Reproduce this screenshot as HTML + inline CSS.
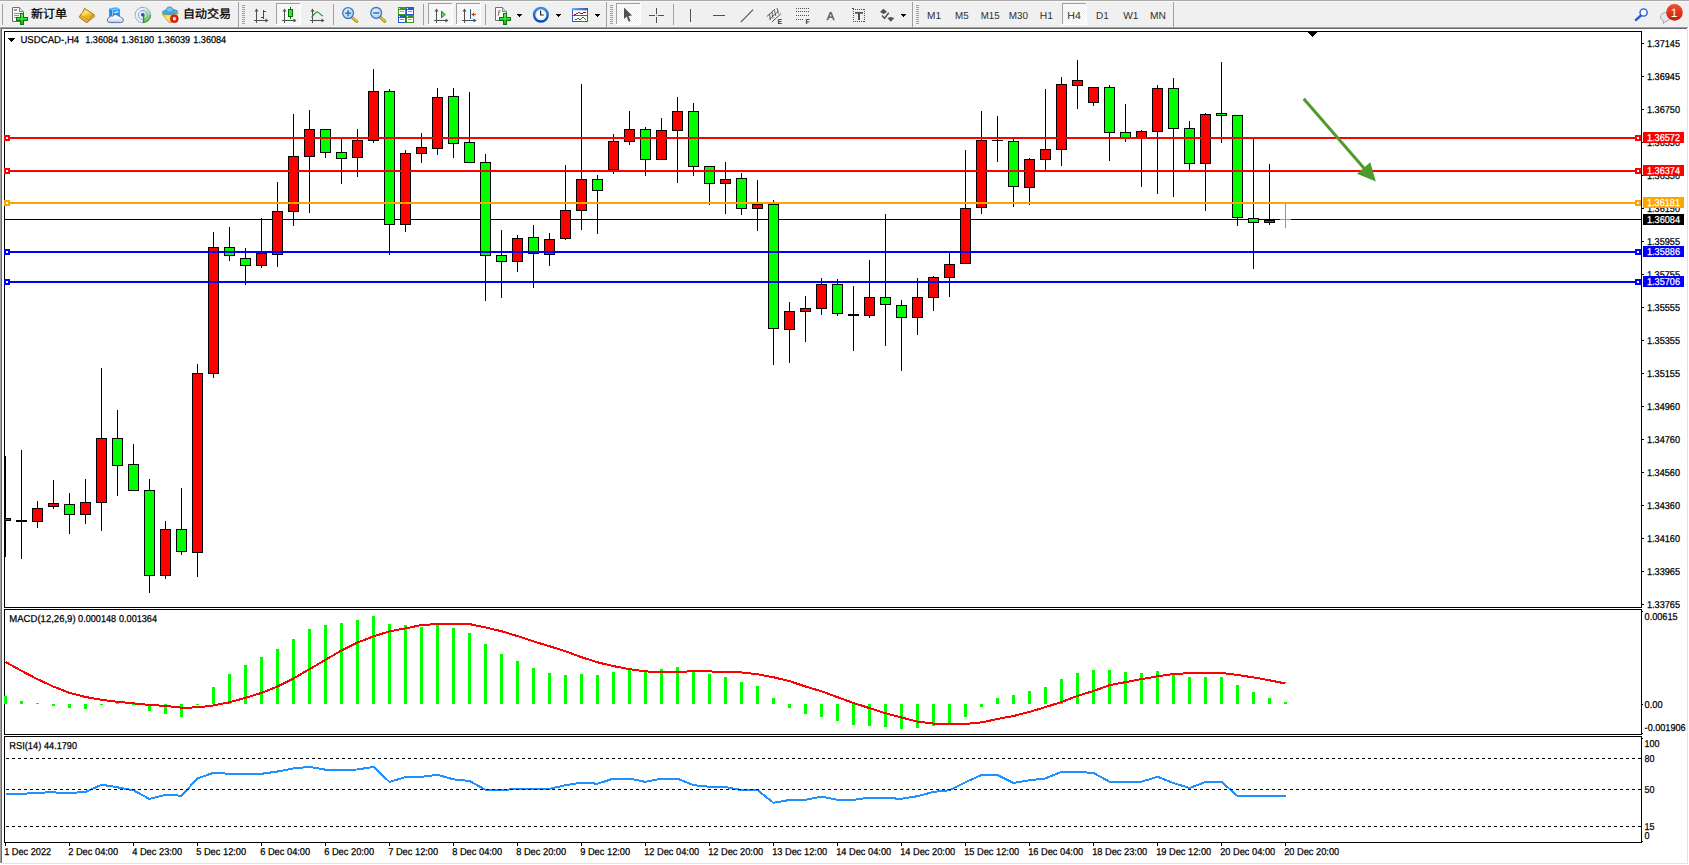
<!DOCTYPE html>
<html><head><meta charset="utf-8"><title>USDCAD-,H4</title>
<style>html,body{margin:0;padding:0;background:#fff;overflow:hidden}svg{display:block}text{text-rendering:geometricPrecision;font-family:"Liberation Sans","Noto Sans CJK SC",sans-serif}</style>
</head><body>
<svg width="1689" height="865" viewBox="0 0 1689 865" font-family="Liberation Sans, sans-serif" shape-rendering="crispEdges">
<rect x="0" y="0" width="1689" height="865" fill="#fff"/>
<rect x="0" y="0" width="1689" height="27" fill="#f0f0f0"/>
<rect x="0" y="0" width="1689" height="1" fill="#a8a8a8"/>
<rect x="0" y="1" width="1689" height="1" fill="#fafafa"/>
<rect x="0" y="27" width="1688" height="1" fill="#a0a0a0"/>
<rect x="0" y="28" width="1687" height="1" fill="#696969"/>
<rect x="0" y="28" width="1" height="835" fill="#a0a0a0"/>
<rect x="1" y="29" width="1" height="834" fill="#696969"/>
<rect x="1687" y="29" width="1" height="835" fill="#e3e3e3"/>
<rect x="2" y="863" width="1686" height="1" fill="#e3e3e3"/>
<defs><pattern id="chk" width="2" height="2" patternUnits="userSpaceOnUse"><rect width="2" height="2" fill="#fff"/><rect width="1" height="1" fill="#f0f0f0"/><rect x="1" y="1" width="1" height="1" fill="#f0f0f0"/></pattern>
<linearGradient id="gp" x1="0" y1="0" x2="0" y2="1"><stop offset="0" stop-color="#58f858"/><stop offset="1" stop-color="#10b010"/></linearGradient>
<linearGradient id="gp2" x1="0" y1="0" x2="0" y2="1"><stop offset="0" stop-color="#40f040"/><stop offset="1" stop-color="#18c018"/></linearGradient>
<linearGradient id="clk" x1="0" y1="0" x2="0" y2="1"><stop offset="0" stop-color="#3c90e8"/><stop offset="1" stop-color="#0c48b0"/></linearGradient>
<linearGradient id="tbar" x1="0" y1="0" x2="1" y2="0"><stop offset="0" stop-color="#78b0f0"/><stop offset="1" stop-color="#2458b8"/></linearGradient>
<linearGradient id="gold" x1="0" y1="0" x2="1" y2="1"><stop offset="0" stop-color="#f8e070"/><stop offset="1" stop-color="#c08010"/></linearGradient>
<linearGradient id="redb" x1="0" y1="0" x2="0" y2="1"><stop offset="0" stop-color="#ec5030"/><stop offset="1" stop-color="#d01c0c"/></linearGradient>
<radialGradient id="lens" cx="0.4" cy="0.35" r="0.7"><stop offset="0" stop-color="#e8f4ff"/><stop offset="1" stop-color="#a8cce8"/></radialGradient>
<linearGradient id="gold2" x1="0.2" y1="0" x2="0.7" y2="1"><stop offset="0" stop-color="#f0c020"/><stop offset="0.35" stop-color="#fbe468"/><stop offset="0.7" stop-color="#e8b010"/><stop offset="1" stop-color="#f4cc38"/></linearGradient>
<linearGradient id="cloud" x1="0" y1="0" x2="0" y2="1"><stop offset="0" stop-color="#ffffff"/><stop offset="0.55" stop-color="#f0f2f8"/><stop offset="1" stop-color="#b8c2d8"/></linearGradient>
<linearGradient id="sig" x1="0.2" y1="0" x2="0.6" y2="1"><stop offset="0" stop-color="#e4f0e4" stop-opacity="0.7"/><stop offset="0.55" stop-color="#b0d8b0" stop-opacity="0.9"/><stop offset="1" stop-color="#38a838"/></linearGradient>
<linearGradient id="face" x1="0" y1="0" x2="0.3" y2="1"><stop offset="0" stop-color="#f4c830"/><stop offset="0.5" stop-color="#fbe870"/><stop offset="1" stop-color="#f8e050"/></linearGradient>
</defs>
<g shape-rendering="geometricPrecision">
</g>
<rect x="2" y="4" width="1" height="21" fill="#a0a0a0"/>
<g shape-rendering="geometricPrecision">
<path d="M12.5,7.5 h7 l4,4 v10 h-11 z" fill="#fcfcfc" stroke="#707070" stroke-width="1" stroke-linejoin="round"/>
<path d="M19.5,7.5 v4 h4" fill="#e0e0e0" stroke="#808080" stroke-width="1"/>
<rect x="14" y="9" width="3" height="2" fill="#989898" shape-rendering="crispEdges"/>
<rect x="14" y="13" width="6" height="1" fill="#909090" shape-rendering="crispEdges"/>
<rect x="14" y="15" width="5" height="1" fill="#909090" shape-rendering="crispEdges"/>
<rect x="14" y="17" width="3" height="1" fill="#909090" shape-rendering="crispEdges"/>
<g shape-rendering="crispEdges">
<rect x="20" y="13" width="4" height="12" fill="#087808"/>
<rect x="16" y="17" width="12" height="4" fill="#087808"/>
<rect x="21" y="14" width="2" height="10" fill="url(#gp)"/>
<rect x="17" y="18" width="10" height="2" fill="url(#gp2)"/>
<rect x="21" y="18" width="2" height="2" fill="#30e030"/>
</g>
<text x="31" y="18.3" font-size="12" fill="#000" stroke="#000" stroke-width="0.3">新订单</text>
<path d="M80.2,15.3 L88.5,20.2 L86.6,22.7 L79.2,17.3 Z" fill="#e0a820" stroke="#a86c10" stroke-width="0.8" stroke-linejoin="round"/>
<path d="M88.5,20.2 L93.8,14.4 L94.8,16.6 L86.6,22.7 Z" fill="#e8dc98" stroke="#a87818" stroke-width="0.8" stroke-linejoin="round"/>
<path d="M87.5,21.6 L94.2,15.6" stroke="#b89838" stroke-width="0.5" fill="none"/>
<path d="M84.6,8.4 L93.8,14.4 L88.5,20.2 L80.2,15.3 Q82.8,12.8 84.6,8.4 Z" fill="url(#gold2)" stroke="#a86c10" stroke-width="0.9" stroke-linejoin="round"/>
<path d="M80.9,16.2 L87.9,20.6" stroke="#fbe888" stroke-width="0.7" fill="none"/>
<path d="M109.2,8.2 L116.5,7.2 L119.9,8.8 L112.4,9.9 Z" fill="#40acff"/>
<path d="M109.2,8.2 L112.4,9.9 L112.4,18 L109.2,18 Z" fill="#0c84ee"/>
<path d="M112.4,9.9 L119.9,8.8 L119.9,18 L112.4,18 Z" fill="#1c98f8"/>
<path d="M109.2,8.2 L112.4,9.9 L119.9,8.8 M112.4,9.9 V16" stroke="#c8e8ff" stroke-width="0.6" fill="none"/>
<path d="M114.2,12.6 L118.4,11.6" stroke="#e8f6ff" stroke-width="1.1" fill="none"/>
<path d="M109.6,22.6 a2.6,2.6 0 0 1 -0.3,-5.1 a2.4,2.4 0 0 1 3.4,-1.2 a3.1,3.1 0 0 1 5.6,-0.2 a2.4,2.4 0 0 1 2.8,1.5 a2.5,2.5 0 0 1 -0.5,5 z" fill="url(#cloud)" stroke="#4868a8" stroke-width="0.9"/>
<path d="M142.9,15.0 L142.9,22.9 A7.9,7.9 0 0 0 150.8,15.0 A7.9,7.9 0 0 0 142.9,7.1 Z" fill="url(#sig)"/>
<path d="M142.9,10.5 a4.5,4.5 0 0 0 0,9.0" fill="none" stroke="#3864d0" stroke-width="1" opacity="0.8" stroke-dasharray="1.6,0.7"/>
<path d="M142.9,10.5 a4.5,4.5 0 0 1 4.5,4.5" fill="none" stroke="#5088b8" stroke-width="1" opacity="0.5599999999999999"/>
<path d="M142.9,7.3 a7.7,7.7 0 0 0 0,15.4" fill="none" stroke="#3864d0" stroke-width="1" opacity="0.75" stroke-dasharray="1.6,0.7"/>
<path d="M142.9,7.3 a7.7,7.7 0 0 1 7.7,7.7" fill="none" stroke="#5088b8" stroke-width="1" opacity="0.5249999999999999"/>
<path d="M150.6,15.0 a7.7,7.7 0 0 1 -7.7,7.7" fill="none" stroke="#30a030" stroke-width="1.1" opacity="0.9"/>
<path d="M147.5,15.0 a4.6,4.6 0 0 1 -4.6,4.6" fill="none" stroke="#60a870" stroke-width="1" opacity="0.6"/>
<rect x="142.9" y="15.0" width="1.4" height="7.8" fill="#18a018"/>
<circle cx="142.70000000000002" cy="14.8" r="1.8" fill="#2452d0"/>
<path d="M162.4,14.3 L178,13.4 L171.2,22.6 L169,22.4 Z" fill="url(#face)" stroke="#c09410" stroke-width="0.8" stroke-linejoin="round"/>
<ellipse cx="170" cy="12" rx="7.7" ry="2.4" fill="#58b0e2" stroke="#2484b4" stroke-width="0.8" transform="rotate(-3 170 12)"/>
<path d="M166,11.6 C166,8.6 167.4,7 169.7,7 C172,7 173.2,8.6 173.3,11.4 C171,12.4 168,12.5 166,11.6 Z" fill="#7cc4ee" stroke="#2484b4" stroke-width="0.8"/>
<circle cx="174.3" cy="18.7" r="3.9" fill="#e82408" stroke="#b01c08" stroke-width="0.8"/>
<rect x="173" y="17.3" width="2.8" height="2.9" fill="#fff"/>
<text x="183" y="18.3" font-size="12" fill="#000" stroke="#000" stroke-width="0.3">自动交易</text>
</g>
<rect x="238" y="2" width="1" height="25" fill="#a0a0a0"/>
<rect x="242" y="5" width="3" height="1" fill="#a0a0a0"/>
<rect x="242" y="7" width="3" height="1" fill="#a0a0a0"/>
<rect x="242" y="9" width="3" height="1" fill="#a0a0a0"/>
<rect x="242" y="11" width="3" height="1" fill="#a0a0a0"/>
<rect x="242" y="13" width="3" height="1" fill="#a0a0a0"/>
<rect x="242" y="15" width="3" height="1" fill="#a0a0a0"/>
<rect x="242" y="17" width="3" height="1" fill="#a0a0a0"/>
<rect x="242" y="19" width="3" height="1" fill="#a0a0a0"/>
<rect x="242" y="21" width="3" height="1" fill="#a0a0a0"/>
<rect x="242" y="23" width="3" height="1" fill="#a0a0a0"/>
<rect x="256" y="10" width="1" height="13" fill="#505050"/>
<rect x="254" y="20" width="13" height="1" fill="#505050"/>
<polygon points="256.5,8.5 254.5,11.5 258.5,11.5" fill="#505050" shape-rendering="geometricPrecision"/>
<polygon points="268.5,20.5 265.5,18.5 265.5,22.5" fill="#505050" shape-rendering="geometricPrecision"/>
<rect x="263" y="10" width="1" height="9" fill="#008000"/>
<rect x="264" y="11" width="2" height="1" fill="#008000"/>
<rect x="261" y="17" width="2" height="1" fill="#008000"/>
<rect x="276" y="3" width="25" height="22" fill="url(#chk)"/>
<rect x="276" y="3" width="25" height="1" fill="#a0a0a0"/>
<rect x="276" y="3" width="1" height="22" fill="#a0a0a0"/>
<rect x="276" y="24" width="25" height="1" fill="#fff"/>
<rect x="300" y="3" width="1" height="22" fill="#fff"/>
<rect x="284" y="10" width="1" height="13" fill="#505050"/>
<rect x="282" y="20" width="13" height="1" fill="#505050"/>
<polygon points="284.5,8.5 282.5,11.5 286.5,11.5" fill="#505050" shape-rendering="geometricPrecision"/>
<polygon points="296.5,20.5 293.5,18.5 293.5,22.5" fill="#505050" shape-rendering="geometricPrecision"/>
<rect x="290" y="7" width="1" height="12" fill="#007000"/>
<rect x="288" y="9" width="5" height="8" fill="#007000"/>
<rect x="289" y="10" width="3" height="6" fill="#40e040"/>
<rect x="312" y="10" width="1" height="13" fill="#505050"/>
<rect x="310" y="20" width="13" height="1" fill="#505050"/>
<polygon points="312.5,8.5 310.5,11.5 314.5,11.5" fill="#505050" shape-rendering="geometricPrecision"/>
<polygon points="324.5,20.5 321.5,18.5 321.5,22.5" fill="#505050" shape-rendering="geometricPrecision"/>
<path d="M311.5,17.5 C314,15 315.5,11.5 317.5,12 C319.5,12.5 320.5,15 323,16" fill="none" stroke="#2a9a2a" stroke-width="1.2" shape-rendering="geometricPrecision"/>
<rect x="333" y="4" width="1" height="21" fill="#a0a0a0"/>
<g shape-rendering="geometricPrecision">
<line x1="352.1" y1="17.3" x2="356.70000000000005" y2="21.5" stroke="#b08810" stroke-width="3" stroke-linecap="round"/>
<line x1="352.3" y1="17.3" x2="356.5" y2="21.1" stroke="#f0d040" stroke-width="1.4" stroke-linecap="round"/>
<circle cx="348.1" cy="13.1" r="5.4" fill="url(#lens)" stroke="#3a78c8" stroke-width="1.3"/>
<rect x="345.1" y="12.299999999999999" width="6" height="1.6" fill="#3a78b8"/>
<rect x="347.3" y="10.1" width="1.6" height="6" fill="#3a78b8"/>
</g>
<g shape-rendering="geometricPrecision">
<line x1="380.2" y1="17.1" x2="384.8" y2="21.3" stroke="#b08810" stroke-width="3" stroke-linecap="round"/>
<line x1="380.4" y1="17.1" x2="384.59999999999997" y2="20.9" stroke="#f0d040" stroke-width="1.4" stroke-linecap="round"/>
<circle cx="376.2" cy="12.9" r="5.4" fill="url(#lens)" stroke="#3a78c8" stroke-width="1.3"/>
<rect x="373.2" y="12.1" width="6" height="1.6" fill="#3a78b8"/>
</g>
<rect x="398" y="7" width="8" height="8" fill="#3a9a1e"/>
<rect x="399" y="10" width="6" height="4" fill="#fff"/>
<rect x="400" y="11" width="4" height="1" fill="#7ad05a"/>
<rect x="399" y="8" width="1" height="1" fill="#fff"/>
<rect x="406" y="7" width="8" height="8" fill="#2a5ad0"/>
<rect x="407" y="10" width="6" height="4" fill="#fff"/>
<rect x="408" y="11" width="4" height="1" fill="#6a9af0"/>
<rect x="407" y="8" width="1" height="1" fill="#fff"/>
<rect x="398" y="15" width="8" height="8" fill="#2a5ad0"/>
<rect x="399" y="18" width="6" height="4" fill="#fff"/>
<rect x="400" y="19" width="4" height="1" fill="#6a9af0"/>
<rect x="399" y="16" width="1" height="1" fill="#fff"/>
<rect x="406" y="15" width="8" height="8" fill="#3a9a1e"/>
<rect x="407" y="18" width="6" height="4" fill="#fff"/>
<rect x="408" y="19" width="4" height="1" fill="#7ad05a"/>
<rect x="407" y="16" width="1" height="1" fill="#fff"/>
<rect x="423" y="4" width="1" height="21" fill="#a0a0a0"/>
<rect x="428" y="3" width="25" height="22" fill="url(#chk)"/>
<rect x="428" y="3" width="25" height="1" fill="#a0a0a0"/>
<rect x="428" y="3" width="1" height="22" fill="#a0a0a0"/>
<rect x="428" y="24" width="25" height="1" fill="#fff"/>
<rect x="452" y="3" width="1" height="22" fill="#fff"/>
<rect x="436" y="10" width="1" height="13" fill="#505050"/>
<rect x="434" y="20" width="13" height="1" fill="#505050"/>
<polygon points="436.5,8.5 434.5,11.5 438.5,11.5" fill="#505050" shape-rendering="geometricPrecision"/>
<polygon points="448.5,20.5 445.5,18.5 445.5,22.5" fill="#505050" shape-rendering="geometricPrecision"/>
<polygon points="441.5,11.2 441.5,17.8 445.3,14.5" fill="#60e060" stroke="#109010" stroke-width="1" shape-rendering="geometricPrecision"/>
<rect x="456" y="3" width="25" height="22" fill="url(#chk)"/>
<rect x="456" y="3" width="25" height="1" fill="#a0a0a0"/>
<rect x="456" y="3" width="1" height="22" fill="#a0a0a0"/>
<rect x="456" y="24" width="25" height="1" fill="#fff"/>
<rect x="480" y="3" width="1" height="22" fill="#fff"/>
<rect x="464" y="10" width="1" height="13" fill="#505050"/>
<rect x="462" y="20" width="13" height="1" fill="#505050"/>
<polygon points="464.5,8.5 462.5,11.5 466.5,11.5" fill="#505050" shape-rendering="geometricPrecision"/>
<polygon points="476.5,20.5 473.5,18.5 473.5,22.5" fill="#505050" shape-rendering="geometricPrecision"/>
<rect x="470" y="9" width="1" height="10" fill="#1a6aa0"/>
<g shape-rendering="geometricPrecision"><line x1="472" y1="14.5" x2="476" y2="14.5" stroke="#d04000" stroke-width="1"/><polygon points="471.3,14.5 474.5,12.3 474,14.5 474.5,16.7" fill="#d04000"/></g>
<rect x="485" y="4" width="1" height="21" fill="#a0a0a0"/>
<g shape-rendering="geometricPrecision">
<path d="M495.5,7.5 h7 l4,4 v9 h-11 z" fill="#fcfcfc" stroke="#707070" stroke-width="1" stroke-linejoin="round"/>
<path d="M502.5,7.5 v4 h4" fill="#e0e0e0" stroke="#808080" stroke-width="1"/>
<text x="497.5" y="16" font-size="8" fill="#404040" font-style="italic">f</text>
<g shape-rendering="crispEdges">
<rect x="503" y="13" width="4" height="12" fill="#087808"/>
<rect x="499" y="17" width="12" height="4" fill="#087808"/>
<rect x="504" y="14" width="2" height="10" fill="url(#gp)"/>
<rect x="500" y="18" width="10" height="2" fill="url(#gp2)"/>
<rect x="504" y="18" width="2" height="2" fill="#30e030"/>
</g>
</g>
<rect x="517" y="14" width="5" height="1" fill="#000"/>
<rect x="518" y="15" width="3" height="1" fill="#000"/>
<rect x="519" y="16" width="1" height="1" fill="#000"/>
<g shape-rendering="geometricPrecision"><circle cx="540.9" cy="14.8" r="6.8" fill="#fcfcff" stroke="url(#clk)" stroke-width="2.5"/>
<circle cx="540.90" cy="10.20" r="0.35" fill="#8090a8"/>
<circle cx="543.20" cy="10.82" r="0.35" fill="#8090a8"/>
<circle cx="544.88" cy="12.50" r="0.35" fill="#8090a8"/>
<circle cx="545.50" cy="14.80" r="0.35" fill="#8090a8"/>
<circle cx="544.88" cy="17.10" r="0.35" fill="#8090a8"/>
<circle cx="543.20" cy="18.78" r="0.35" fill="#8090a8"/>
<circle cx="540.90" cy="19.40" r="0.35" fill="#8090a8"/>
<circle cx="538.60" cy="18.78" r="0.35" fill="#8090a8"/>
<circle cx="536.92" cy="17.10" r="0.35" fill="#8090a8"/>
<circle cx="536.30" cy="14.80" r="0.35" fill="#8090a8"/>
<circle cx="536.92" cy="12.50" r="0.35" fill="#8090a8"/>
<circle cx="538.60" cy="10.82" r="0.35" fill="#8090a8"/>
<path d="M540.6,10.8 V15 H543.8" fill="none" stroke="#282828" stroke-width="1.2"/></g>
<rect x="556" y="14" width="5" height="1" fill="#000"/>
<rect x="557" y="15" width="3" height="1" fill="#000"/>
<rect x="558" y="16" width="1" height="1" fill="#000"/>
<rect x="572" y="8" width="16" height="14" fill="#2a62c8"/>
<rect x="573" y="10" width="14" height="11" fill="#fff"/>
<rect x="572" y="8" width="16" height="2" fill="url(#tbar)"/>
<rect x="573" y="15" width="14" height="1" fill="#2a62c8"/>
<rect x="573" y="10" width="14" height="1" fill="#c8dcf8"/>
<rect x="574" y="14" width="1" height="1" fill="#a81808"/>
<rect x="575" y="14" width="1" height="1" fill="#a81808"/>
<rect x="576" y="13" width="1" height="1" fill="#a81808"/>
<rect x="577" y="13" width="1" height="1" fill="#a81808"/>
<rect x="578" y="12" width="1" height="1" fill="#a81808"/>
<rect x="579" y="12" width="1" height="1" fill="#a81808"/>
<rect x="580" y="13" width="1" height="1" fill="#a81808"/>
<rect x="581" y="13" width="1" height="1" fill="#a81808"/>
<rect x="582" y="13" width="1" height="1" fill="#a81808"/>
<rect x="583" y="12" width="1" height="1" fill="#a81808"/>
<rect x="584" y="12" width="1" height="1" fill="#a81808"/>
<rect x="585" y="12" width="1" height="1" fill="#a81808"/>
<rect x="575" y="19" width="1" height="1" fill="#109010"/>
<rect x="576" y="19" width="1" height="1" fill="#109010"/>
<rect x="577" y="18" width="1" height="1" fill="#109010"/>
<rect x="578" y="18" width="1" height="1" fill="#109010"/>
<rect x="579" y="19" width="1" height="1" fill="#109010"/>
<rect x="580" y="19" width="1" height="1" fill="#109010"/>
<rect x="581" y="18" width="1" height="1" fill="#109010"/>
<rect x="582" y="17" width="1" height="1" fill="#109010"/>
<rect x="583" y="17" width="1" height="1" fill="#109010"/>
<rect x="584" y="18" width="1" height="1" fill="#109010"/>
<rect x="585" y="19" width="1" height="1" fill="#109010"/>
<rect x="595" y="14" width="5" height="1" fill="#000"/>
<rect x="596" y="15" width="3" height="1" fill="#000"/>
<rect x="597" y="16" width="1" height="1" fill="#000"/>
<rect x="606" y="2" width="1" height="25" fill="#a0a0a0"/>
<rect x="610" y="5" width="3" height="1" fill="#a0a0a0"/>
<rect x="610" y="7" width="3" height="1" fill="#a0a0a0"/>
<rect x="610" y="9" width="3" height="1" fill="#a0a0a0"/>
<rect x="610" y="11" width="3" height="1" fill="#a0a0a0"/>
<rect x="610" y="13" width="3" height="1" fill="#a0a0a0"/>
<rect x="610" y="15" width="3" height="1" fill="#a0a0a0"/>
<rect x="610" y="17" width="3" height="1" fill="#a0a0a0"/>
<rect x="610" y="19" width="3" height="1" fill="#a0a0a0"/>
<rect x="610" y="21" width="3" height="1" fill="#a0a0a0"/>
<rect x="610" y="23" width="3" height="1" fill="#a0a0a0"/>
<rect x="616" y="3" width="25" height="22" fill="url(#chk)"/>
<rect x="616" y="3" width="25" height="1" fill="#a0a0a0"/>
<rect x="616" y="3" width="1" height="22" fill="#a0a0a0"/>
<rect x="616" y="24" width="25" height="1" fill="#fff"/>
<rect x="640" y="3" width="1" height="22" fill="#fff"/>
<path d="M624,7.5 V19 L626.6,16.6 L628.8,21.8 L630.6,21 L628.4,16 L632,15.5 Z" fill="#505050" shape-rendering="geometricPrecision"/>
<rect x="649" y="15" width="6" height="1" fill="#505050"/>
<rect x="658" y="15" width="6" height="1" fill="#505050"/>
<rect x="656" y="8" width="1" height="6" fill="#505050"/>
<rect x="656" y="17" width="1" height="6" fill="#505050"/>
<rect x="656" y="15" width="1" height="1" fill="#909090"/>
<rect x="673" y="4" width="1" height="21" fill="#a0a0a0"/>
<rect x="690" y="9" width="1" height="13" fill="#505050"/>
<rect x="713" y="15" width="12" height="1" fill="#505050"/>
<g shape-rendering="geometricPrecision" stroke="#505050" fill="none"><line x1="740.8" y1="22.2" x2="753.1" y2="9.6" stroke-width="1.1"/>
<line x1="766.9" y1="16.5" x2="775" y2="9.1" stroke-width="1"/><line x1="771.9" y1="21.9" x2="781.2" y2="13.5" stroke-width="1"/><line x1="769" y1="19.5" x2="778.5" y2="11" stroke-width="0.8"/>
<path d="M769.5,14 L770.5,20 M772,12 L773,18.5 M774.5,10.5 L775.8,16 M777,8 L778.5,13.8" stroke-width="0.9"/></g>
<text x="777.6" y="23.8" font-size="7" font-weight="bold" fill="#303030">E</text>
<rect x="796" y="8" width="1" height="1" fill="#505050"/>
<rect x="798" y="8" width="1" height="1" fill="#505050"/>
<rect x="800" y="8" width="1" height="1" fill="#505050"/>
<rect x="802" y="8" width="1" height="1" fill="#505050"/>
<rect x="804" y="8" width="1" height="1" fill="#505050"/>
<rect x="806" y="8" width="1" height="1" fill="#505050"/>
<rect x="808" y="8" width="1" height="1" fill="#505050"/>
<rect x="796" y="11" width="1" height="1" fill="#505050"/>
<rect x="798" y="11" width="1" height="1" fill="#505050"/>
<rect x="800" y="11" width="1" height="1" fill="#505050"/>
<rect x="802" y="11" width="1" height="1" fill="#505050"/>
<rect x="804" y="11" width="1" height="1" fill="#505050"/>
<rect x="806" y="11" width="1" height="1" fill="#505050"/>
<rect x="808" y="11" width="1" height="1" fill="#505050"/>
<rect x="796" y="15" width="1" height="1" fill="#505050"/>
<rect x="798" y="15" width="1" height="1" fill="#505050"/>
<rect x="800" y="15" width="1" height="1" fill="#505050"/>
<rect x="802" y="15" width="1" height="1" fill="#505050"/>
<rect x="804" y="15" width="1" height="1" fill="#505050"/>
<rect x="806" y="15" width="1" height="1" fill="#505050"/>
<rect x="808" y="15" width="1" height="1" fill="#505050"/>
<rect x="796" y="19" width="1" height="1" fill="#505050"/>
<rect x="798" y="19" width="1" height="1" fill="#505050"/>
<rect x="800" y="19" width="1" height="1" fill="#505050"/>
<rect x="802" y="19" width="1" height="1" fill="#505050"/>
<text x="805.5" y="23.8" font-size="7" font-weight="bold" fill="#303030">F</text>
<text x="826.8" y="20" font-size="11.5" fill="#505050" stroke="#505050" stroke-width="0.3">A</text>
<rect x="853" y="9" width="1" height="1" fill="#505050"/>
<rect x="853" y="21" width="1" height="1" fill="#505050"/>
<rect x="855" y="9" width="1" height="1" fill="#505050"/>
<rect x="855" y="21" width="1" height="1" fill="#505050"/>
<rect x="857" y="9" width="1" height="1" fill="#505050"/>
<rect x="857" y="21" width="1" height="1" fill="#505050"/>
<rect x="859" y="9" width="1" height="1" fill="#505050"/>
<rect x="859" y="21" width="1" height="1" fill="#505050"/>
<rect x="861" y="9" width="1" height="1" fill="#505050"/>
<rect x="861" y="21" width="1" height="1" fill="#505050"/>
<rect x="863" y="9" width="1" height="1" fill="#505050"/>
<rect x="863" y="21" width="1" height="1" fill="#505050"/>
<rect x="853" y="9" width="1" height="1" fill="#505050"/>
<rect x="864" y="9" width="1" height="1" fill="#505050"/>
<rect x="853" y="11" width="1" height="1" fill="#505050"/>
<rect x="864" y="11" width="1" height="1" fill="#505050"/>
<rect x="853" y="13" width="1" height="1" fill="#505050"/>
<rect x="864" y="13" width="1" height="1" fill="#505050"/>
<rect x="853" y="15" width="1" height="1" fill="#505050"/>
<rect x="864" y="15" width="1" height="1" fill="#505050"/>
<rect x="853" y="17" width="1" height="1" fill="#505050"/>
<rect x="864" y="17" width="1" height="1" fill="#505050"/>
<rect x="853" y="19" width="1" height="1" fill="#505050"/>
<rect x="864" y="19" width="1" height="1" fill="#505050"/>
<rect x="853" y="21" width="1" height="1" fill="#505050"/>
<rect x="864" y="21" width="1" height="1" fill="#505050"/>
<rect x="852" y="8" width="2" height="1" fill="#505050"/>
<rect x="855" y="12" width="8" height="1" fill="#505050"/>
<rect x="855" y="13" width="8" height="1" fill="#808080"/>
<rect x="858" y="13" width="2" height="7" fill="#505050"/>
<g shape-rendering="geometricPrecision" fill="#505050"><polygon points="883.5,8.8 887,12 883.5,14 880,12"/><polygon points="890.8,21.8 894.2,18 890.8,17 887.4,18"/><path d="M882,15.5 L884.5,18.3 L888.8,12.8" fill="none" stroke="#505050" stroke-width="1.4"/></g>
<rect x="901" y="14" width="5" height="1" fill="#000"/>
<rect x="902" y="15" width="3" height="1" fill="#000"/>
<rect x="903" y="16" width="1" height="1" fill="#000"/>
<rect x="912" y="2" width="1" height="25" fill="#a0a0a0"/>
<rect x="916" y="5" width="3" height="1" fill="#a0a0a0"/>
<rect x="916" y="7" width="3" height="1" fill="#a0a0a0"/>
<rect x="916" y="9" width="3" height="1" fill="#a0a0a0"/>
<rect x="916" y="11" width="3" height="1" fill="#a0a0a0"/>
<rect x="916" y="13" width="3" height="1" fill="#a0a0a0"/>
<rect x="916" y="15" width="3" height="1" fill="#a0a0a0"/>
<rect x="916" y="17" width="3" height="1" fill="#a0a0a0"/>
<rect x="916" y="19" width="3" height="1" fill="#a0a0a0"/>
<rect x="916" y="21" width="3" height="1" fill="#a0a0a0"/>
<rect x="916" y="23" width="3" height="1" fill="#a0a0a0"/>
<rect x="1062" y="3" width="25" height="22" fill="url(#chk)"/>
<rect x="1062" y="3" width="25" height="1" fill="#a0a0a0"/>
<rect x="1062" y="3" width="1" height="22" fill="#a0a0a0"/>
<rect x="1062" y="24" width="25" height="1" fill="#fff"/>
<rect x="1086" y="3" width="1" height="22" fill="#fff"/>
<text x="927.0" y="19" font-size="10.2" fill="#303030" textLength="14.0" lengthAdjust="spacingAndGlyphs">M1</text>
<text x="955.1" y="19" font-size="10.2" fill="#303030" textLength="13.600000000000023" lengthAdjust="spacingAndGlyphs">M5</text>
<text x="980.8" y="19" font-size="10.2" fill="#303030" textLength="18.800000000000068" lengthAdjust="spacingAndGlyphs">M15</text>
<text x="1008.7" y="19" font-size="10.2" fill="#303030" textLength="19.299999999999955" lengthAdjust="spacingAndGlyphs">M30</text>
<text x="1039.8" y="19" font-size="10.2" fill="#303030" textLength="13.100000000000136" lengthAdjust="spacingAndGlyphs">H1</text>
<text x="1067.3" y="19" font-size="10.2" fill="#303030" textLength="13.5" lengthAdjust="spacingAndGlyphs">H4</text>
<text x="1096.0" y="19" font-size="10.2" fill="#303030" textLength="12.700000000000045" lengthAdjust="spacingAndGlyphs">D1</text>
<text x="1123.3" y="19" font-size="10.2" fill="#303030" textLength="15.200000000000045" lengthAdjust="spacingAndGlyphs">W1</text>
<text x="1150.1" y="19" font-size="10.2" fill="#303030" textLength="15.900000000000091" lengthAdjust="spacingAndGlyphs">MN</text>
<rect x="1173" y="2" width="1" height="25" fill="#a0a0a0"/>
<g shape-rendering="geometricPrecision"><line x1="1640.8" y1="15.6" x2="1636" y2="19.9" stroke="#2a5ad0" stroke-width="2.6" stroke-linecap="round"/><circle cx="1643.6" cy="12.5" r="3.6" fill="#fafcff" stroke="#2a5ad0" stroke-width="1.4"/>
<path d="M1660.4,17 a5,4.4 0 1 1 5.5,4.3 l-2.6,2.2 l0.3,-2.6 a5,4.4 0 0 1 -3.2,-3.9 z" fill="#e4e6ee" stroke="#a0a0a8" stroke-width="0.9"/>
<circle cx="1674.5" cy="12.4" r="8.3" fill="url(#redb)"/>
<text x="1674.1" y="16.8" font-size="12" fill="#fff" text-anchor="middle">1</text></g>
<rect x="4" y="31" width="1638" height="1" fill="#000"/>
<rect x="4" y="607" width="1638" height="1" fill="#000"/>
<rect x="4" y="31" width="1" height="577" fill="#000"/>
<rect x="4" y="609" width="1638" height="1" fill="#000"/>
<rect x="4" y="734" width="1638" height="1" fill="#000"/>
<rect x="4" y="609" width="1" height="126" fill="#000"/>
<rect x="4" y="736" width="1638" height="1" fill="#000"/>
<rect x="4" y="842" width="1638" height="1" fill="#000"/>
<rect x="4" y="736" width="1" height="107" fill="#000"/>
<rect x="1641" y="31" width="1" height="577" fill="#000"/>
<rect x="1641" y="609" width="1" height="126" fill="#000"/>
<rect x="1641" y="736" width="1" height="107" fill="#000"/>
<clipPath id="cm"><rect x="5" y="32" width="1636" height="575"/></clipPath>
<g clip-path="url(#cm)">
<rect x="5" y="219" width="1636" height="1" fill="#000"/>
<rect x="5" y="456" width="1" height="101" fill="#000"/>
<rect x="0" y="518" width="11" height="3" fill="#000"/>
<rect x="1" y="519" width="9" height="1" fill="#f00"/>
<rect x="21" y="450" width="1" height="109" fill="#000"/>
<rect x="16" y="520" width="11" height="2" fill="#000"/>
<rect x="37" y="501" width="1" height="27" fill="#000"/>
<rect x="32" y="508" width="11" height="14" fill="#000"/>
<rect x="33" y="509" width="9" height="12" fill="#f00"/>
<rect x="53" y="480" width="1" height="29" fill="#000"/>
<rect x="48" y="503" width="11" height="4" fill="#000"/>
<rect x="49" y="504" width="9" height="2" fill="#f00"/>
<rect x="69" y="493" width="1" height="41" fill="#000"/>
<rect x="64" y="504" width="11" height="11" fill="#000"/>
<rect x="65" y="505" width="9" height="9" fill="#0f0"/>
<rect x="85" y="479" width="1" height="45" fill="#000"/>
<rect x="80" y="502" width="11" height="13" fill="#000"/>
<rect x="81" y="503" width="9" height="11" fill="#f00"/>
<rect x="101" y="368" width="1" height="163" fill="#000"/>
<rect x="96" y="438" width="11" height="65" fill="#000"/>
<rect x="97" y="439" width="9" height="63" fill="#f00"/>
<rect x="117" y="410" width="1" height="86" fill="#000"/>
<rect x="112" y="438" width="11" height="28" fill="#000"/>
<rect x="113" y="439" width="9" height="26" fill="#0f0"/>
<rect x="133" y="444" width="1" height="47" fill="#000"/>
<rect x="128" y="464" width="11" height="27" fill="#000"/>
<rect x="129" y="465" width="9" height="25" fill="#0f0"/>
<rect x="149" y="479" width="1" height="114" fill="#000"/>
<rect x="144" y="490" width="11" height="86" fill="#000"/>
<rect x="145" y="491" width="9" height="84" fill="#0f0"/>
<rect x="165" y="521" width="1" height="58" fill="#000"/>
<rect x="160" y="529" width="11" height="47" fill="#000"/>
<rect x="161" y="530" width="9" height="45" fill="#f00"/>
<rect x="181" y="488" width="1" height="67" fill="#000"/>
<rect x="176" y="529" width="11" height="23" fill="#000"/>
<rect x="177" y="530" width="9" height="21" fill="#0f0"/>
<rect x="197" y="364" width="1" height="213" fill="#000"/>
<rect x="192" y="373" width="11" height="180" fill="#000"/>
<rect x="193" y="374" width="9" height="178" fill="#f00"/>
<rect x="213" y="232" width="1" height="146" fill="#000"/>
<rect x="208" y="247" width="11" height="127" fill="#000"/>
<rect x="209" y="248" width="9" height="125" fill="#f00"/>
<rect x="229" y="227" width="1" height="34" fill="#000"/>
<rect x="224" y="247" width="11" height="9" fill="#000"/>
<rect x="225" y="248" width="9" height="7" fill="#0f0"/>
<rect x="245" y="248" width="1" height="37" fill="#000"/>
<rect x="240" y="258" width="11" height="8" fill="#000"/>
<rect x="241" y="259" width="9" height="6" fill="#0f0"/>
<rect x="261" y="218" width="1" height="50" fill="#000"/>
<rect x="256" y="253" width="11" height="13" fill="#000"/>
<rect x="257" y="254" width="9" height="11" fill="#f00"/>
<rect x="277" y="182" width="1" height="85" fill="#000"/>
<rect x="272" y="211" width="11" height="44" fill="#000"/>
<rect x="273" y="212" width="9" height="42" fill="#f00"/>
<rect x="293" y="114" width="1" height="112" fill="#000"/>
<rect x="288" y="156" width="11" height="56" fill="#000"/>
<rect x="289" y="157" width="9" height="54" fill="#f00"/>
<rect x="309" y="110" width="1" height="103" fill="#000"/>
<rect x="304" y="129" width="11" height="28" fill="#000"/>
<rect x="305" y="130" width="9" height="26" fill="#f00"/>
<rect x="325" y="129" width="1" height="29" fill="#000"/>
<rect x="320" y="129" width="11" height="24" fill="#000"/>
<rect x="321" y="130" width="9" height="22" fill="#0f0"/>
<rect x="341" y="139" width="1" height="45" fill="#000"/>
<rect x="336" y="152" width="11" height="7" fill="#000"/>
<rect x="337" y="153" width="9" height="5" fill="#0f0"/>
<rect x="357" y="129" width="1" height="48" fill="#000"/>
<rect x="352" y="140" width="11" height="18" fill="#000"/>
<rect x="353" y="141" width="9" height="16" fill="#f00"/>
<rect x="373" y="69" width="1" height="74" fill="#000"/>
<rect x="368" y="91" width="11" height="50" fill="#000"/>
<rect x="369" y="92" width="9" height="48" fill="#f00"/>
<rect x="389" y="89" width="1" height="166" fill="#000"/>
<rect x="384" y="91" width="11" height="134" fill="#000"/>
<rect x="385" y="92" width="9" height="132" fill="#0f0"/>
<rect x="405" y="150" width="1" height="82" fill="#000"/>
<rect x="400" y="153" width="11" height="72" fill="#000"/>
<rect x="401" y="154" width="9" height="70" fill="#f00"/>
<rect x="421" y="133" width="1" height="30" fill="#000"/>
<rect x="416" y="147" width="11" height="7" fill="#000"/>
<rect x="417" y="148" width="9" height="5" fill="#f00"/>
<rect x="437" y="88" width="1" height="67" fill="#000"/>
<rect x="432" y="97" width="11" height="52" fill="#000"/>
<rect x="433" y="98" width="9" height="50" fill="#f00"/>
<rect x="453" y="88" width="1" height="70" fill="#000"/>
<rect x="448" y="96" width="11" height="48" fill="#000"/>
<rect x="449" y="97" width="9" height="46" fill="#0f0"/>
<rect x="469" y="92" width="1" height="71" fill="#000"/>
<rect x="464" y="142" width="11" height="21" fill="#000"/>
<rect x="465" y="143" width="9" height="19" fill="#0f0"/>
<rect x="485" y="154" width="1" height="147" fill="#000"/>
<rect x="480" y="162" width="11" height="94" fill="#000"/>
<rect x="481" y="163" width="9" height="92" fill="#0f0"/>
<rect x="501" y="230" width="1" height="68" fill="#000"/>
<rect x="496" y="255" width="11" height="7" fill="#000"/>
<rect x="497" y="256" width="9" height="5" fill="#0f0"/>
<rect x="517" y="235" width="1" height="37" fill="#000"/>
<rect x="512" y="238" width="11" height="24" fill="#000"/>
<rect x="513" y="239" width="9" height="22" fill="#f00"/>
<rect x="533" y="225" width="1" height="63" fill="#000"/>
<rect x="528" y="237" width="11" height="17" fill="#000"/>
<rect x="529" y="238" width="9" height="15" fill="#0f0"/>
<rect x="549" y="233" width="1" height="33" fill="#000"/>
<rect x="544" y="239" width="11" height="16" fill="#000"/>
<rect x="545" y="240" width="9" height="14" fill="#f00"/>
<rect x="565" y="165" width="1" height="75" fill="#000"/>
<rect x="560" y="210" width="11" height="29" fill="#000"/>
<rect x="561" y="211" width="9" height="27" fill="#f00"/>
<rect x="581" y="84" width="1" height="146" fill="#000"/>
<rect x="576" y="179" width="11" height="32" fill="#000"/>
<rect x="577" y="180" width="9" height="30" fill="#f00"/>
<rect x="597" y="175" width="1" height="59" fill="#000"/>
<rect x="592" y="179" width="11" height="12" fill="#000"/>
<rect x="593" y="180" width="9" height="10" fill="#0f0"/>
<rect x="613" y="134" width="1" height="40" fill="#000"/>
<rect x="608" y="141" width="11" height="29" fill="#000"/>
<rect x="609" y="142" width="9" height="27" fill="#f00"/>
<rect x="629" y="111" width="1" height="34" fill="#000"/>
<rect x="624" y="129" width="11" height="13" fill="#000"/>
<rect x="625" y="130" width="9" height="11" fill="#f00"/>
<rect x="645" y="127" width="1" height="49" fill="#000"/>
<rect x="640" y="129" width="11" height="31" fill="#000"/>
<rect x="641" y="130" width="9" height="29" fill="#0f0"/>
<rect x="661" y="118" width="1" height="42" fill="#000"/>
<rect x="656" y="130" width="11" height="30" fill="#000"/>
<rect x="657" y="131" width="9" height="28" fill="#f00"/>
<rect x="677" y="97" width="1" height="86" fill="#000"/>
<rect x="672" y="111" width="11" height="20" fill="#000"/>
<rect x="673" y="112" width="9" height="18" fill="#f00"/>
<rect x="693" y="103" width="1" height="73" fill="#000"/>
<rect x="688" y="111" width="11" height="56" fill="#000"/>
<rect x="689" y="112" width="9" height="54" fill="#0f0"/>
<rect x="709" y="166" width="1" height="39" fill="#000"/>
<rect x="704" y="166" width="11" height="18" fill="#000"/>
<rect x="705" y="167" width="9" height="16" fill="#0f0"/>
<rect x="725" y="162" width="1" height="52" fill="#000"/>
<rect x="720" y="179" width="11" height="5" fill="#000"/>
<rect x="721" y="180" width="9" height="3" fill="#f00"/>
<rect x="741" y="173" width="1" height="42" fill="#000"/>
<rect x="736" y="178" width="11" height="31" fill="#000"/>
<rect x="737" y="179" width="9" height="29" fill="#0f0"/>
<rect x="757" y="180" width="1" height="51" fill="#000"/>
<rect x="752" y="204" width="11" height="5" fill="#000"/>
<rect x="753" y="205" width="9" height="3" fill="#f00"/>
<rect x="773" y="200" width="1" height="165" fill="#000"/>
<rect x="768" y="204" width="11" height="125" fill="#000"/>
<rect x="769" y="205" width="9" height="123" fill="#0f0"/>
<rect x="789" y="302" width="1" height="61" fill="#000"/>
<rect x="784" y="311" width="11" height="19" fill="#000"/>
<rect x="785" y="312" width="9" height="17" fill="#f00"/>
<rect x="805" y="296" width="1" height="46" fill="#000"/>
<rect x="800" y="308" width="11" height="4" fill="#000"/>
<rect x="801" y="309" width="9" height="2" fill="#f00"/>
<rect x="821" y="278" width="1" height="37" fill="#000"/>
<rect x="816" y="284" width="11" height="25" fill="#000"/>
<rect x="817" y="285" width="9" height="23" fill="#f00"/>
<rect x="837" y="279" width="1" height="37" fill="#000"/>
<rect x="832" y="284" width="11" height="30" fill="#000"/>
<rect x="833" y="285" width="9" height="28" fill="#0f0"/>
<rect x="853" y="286" width="1" height="65" fill="#000"/>
<rect x="848" y="314" width="11" height="2" fill="#000"/>
<rect x="869" y="260" width="1" height="58" fill="#000"/>
<rect x="864" y="297" width="11" height="19" fill="#000"/>
<rect x="865" y="298" width="9" height="17" fill="#f00"/>
<rect x="885" y="214" width="1" height="132" fill="#000"/>
<rect x="880" y="297" width="11" height="8" fill="#000"/>
<rect x="881" y="298" width="9" height="6" fill="#0f0"/>
<rect x="901" y="300" width="1" height="71" fill="#000"/>
<rect x="896" y="305" width="11" height="13" fill="#000"/>
<rect x="897" y="306" width="9" height="11" fill="#0f0"/>
<rect x="917" y="278" width="1" height="57" fill="#000"/>
<rect x="912" y="297" width="11" height="21" fill="#000"/>
<rect x="913" y="298" width="9" height="19" fill="#f00"/>
<rect x="933" y="276" width="1" height="35" fill="#000"/>
<rect x="928" y="277" width="11" height="21" fill="#000"/>
<rect x="929" y="278" width="9" height="19" fill="#f00"/>
<rect x="949" y="253" width="1" height="44" fill="#000"/>
<rect x="944" y="264" width="11" height="14" fill="#000"/>
<rect x="945" y="265" width="9" height="12" fill="#f00"/>
<rect x="965" y="150" width="1" height="114" fill="#000"/>
<rect x="960" y="208" width="11" height="56" fill="#000"/>
<rect x="961" y="209" width="9" height="54" fill="#f00"/>
<rect x="981" y="111" width="1" height="103" fill="#000"/>
<rect x="976" y="140" width="11" height="68" fill="#000"/>
<rect x="977" y="141" width="9" height="66" fill="#f00"/>
<rect x="997" y="116" width="1" height="46" fill="#000"/>
<rect x="992" y="140" width="11" height="1" fill="#000"/>
<rect x="1013" y="139" width="1" height="68" fill="#000"/>
<rect x="1008" y="141" width="11" height="46" fill="#000"/>
<rect x="1009" y="142" width="9" height="44" fill="#0f0"/>
<rect x="1029" y="158" width="1" height="47" fill="#000"/>
<rect x="1024" y="159" width="11" height="29" fill="#000"/>
<rect x="1025" y="160" width="9" height="27" fill="#f00"/>
<rect x="1045" y="89" width="1" height="81" fill="#000"/>
<rect x="1040" y="149" width="11" height="11" fill="#000"/>
<rect x="1041" y="150" width="9" height="9" fill="#f00"/>
<rect x="1061" y="77" width="1" height="89" fill="#000"/>
<rect x="1056" y="84" width="11" height="66" fill="#000"/>
<rect x="1057" y="85" width="9" height="64" fill="#f00"/>
<rect x="1077" y="60" width="1" height="49" fill="#000"/>
<rect x="1072" y="80" width="11" height="6" fill="#000"/>
<rect x="1073" y="81" width="9" height="4" fill="#f00"/>
<rect x="1093" y="87" width="1" height="19" fill="#000"/>
<rect x="1088" y="87" width="11" height="16" fill="#000"/>
<rect x="1089" y="88" width="9" height="14" fill="#f00"/>
<rect x="1109" y="85" width="1" height="76" fill="#000"/>
<rect x="1104" y="87" width="11" height="46" fill="#000"/>
<rect x="1105" y="88" width="9" height="44" fill="#0f0"/>
<rect x="1125" y="104" width="1" height="38" fill="#000"/>
<rect x="1120" y="132" width="11" height="6" fill="#000"/>
<rect x="1121" y="133" width="9" height="4" fill="#0f0"/>
<rect x="1141" y="130" width="1" height="57" fill="#000"/>
<rect x="1136" y="131" width="11" height="7" fill="#000"/>
<rect x="1137" y="132" width="9" height="5" fill="#f00"/>
<rect x="1157" y="85" width="1" height="109" fill="#000"/>
<rect x="1152" y="88" width="11" height="44" fill="#000"/>
<rect x="1153" y="89" width="9" height="42" fill="#f00"/>
<rect x="1173" y="78" width="1" height="119" fill="#000"/>
<rect x="1168" y="88" width="11" height="41" fill="#000"/>
<rect x="1169" y="89" width="9" height="39" fill="#0f0"/>
<rect x="1189" y="121" width="1" height="50" fill="#000"/>
<rect x="1184" y="128" width="11" height="36" fill="#000"/>
<rect x="1185" y="129" width="9" height="34" fill="#0f0"/>
<rect x="1205" y="113" width="1" height="98" fill="#000"/>
<rect x="1200" y="114" width="11" height="50" fill="#000"/>
<rect x="1201" y="115" width="9" height="48" fill="#f00"/>
<rect x="1221" y="62" width="1" height="81" fill="#000"/>
<rect x="1216" y="113" width="11" height="3" fill="#000"/>
<rect x="1217" y="114" width="9" height="1" fill="#0f0"/>
<rect x="1237" y="115" width="1" height="111" fill="#000"/>
<rect x="1232" y="115" width="11" height="103" fill="#000"/>
<rect x="1233" y="116" width="9" height="101" fill="#0f0"/>
<rect x="1253" y="138" width="1" height="131" fill="#000"/>
<rect x="1248" y="218" width="11" height="5" fill="#000"/>
<rect x="1249" y="219" width="9" height="3" fill="#0f0"/>
<rect x="1269" y="164" width="1" height="61" fill="#000"/>
<rect x="1264" y="220" width="11" height="3" fill="#000"/>
<rect x="1265" y="221" width="9" height="1" fill="#f00"/>
<rect x="1285" y="204" width="1" height="24" fill="#0f0"/>
<rect x="1280" y="219" width="11" height="1" fill="#0f0"/>
</g>
<rect x="1285" y="204" width="1" height="24" fill="#0f0"/>
<rect x="1280" y="219" width="11" height="1" fill="#0f0"/>
<rect x="5" y="137" width="1636" height="2" fill="#f00"/>
<rect x="4" y="135" width="6" height="6" fill="#f00"/>
<rect x="6" y="137" width="2" height="2" fill="#fff"/>
<rect x="1635" y="135" width="6" height="6" fill="#f00"/>
<rect x="1637" y="137" width="2" height="2" fill="#fff"/>
<rect x="5" y="170" width="1636" height="2" fill="#f00"/>
<rect x="4" y="168" width="6" height="6" fill="#f00"/>
<rect x="6" y="170" width="2" height="2" fill="#fff"/>
<rect x="1635" y="168" width="6" height="6" fill="#f00"/>
<rect x="1637" y="170" width="2" height="2" fill="#fff"/>
<rect x="5" y="202" width="1636" height="2" fill="#ffa500"/>
<rect x="4" y="200" width="6" height="6" fill="#ffa500"/>
<rect x="6" y="202" width="2" height="2" fill="#fff"/>
<rect x="1635" y="200" width="6" height="6" fill="#ffa500"/>
<rect x="1637" y="202" width="2" height="2" fill="#fff"/>
<rect x="5" y="251" width="1636" height="2" fill="#00f"/>
<rect x="4" y="249" width="6" height="6" fill="#00f"/>
<rect x="6" y="251" width="2" height="2" fill="#fff"/>
<rect x="1635" y="249" width="6" height="6" fill="#00f"/>
<rect x="1637" y="251" width="2" height="2" fill="#fff"/>
<rect x="5" y="281" width="1636" height="2" fill="#00f"/>
<rect x="4" y="279" width="6" height="6" fill="#00f"/>
<rect x="6" y="281" width="2" height="2" fill="#fff"/>
<rect x="1635" y="279" width="6" height="6" fill="#00f"/>
<rect x="1637" y="281" width="2" height="2" fill="#fff"/>
<g shape-rendering="geometricPrecision"><line x1="1303.7" y1="98.8" x2="1366" y2="170.5" stroke="#4f9a2d" stroke-width="3"/><polygon points="1375.8,181.6 1357,173.8 1370.3,162.2" fill="#4f9a2d"/></g>
<rect x="1308" y="32" width="9" height="1" fill="#000"/>
<rect x="1309" y="33" width="7" height="1" fill="#000"/>
<rect x="1310" y="34" width="5" height="1" fill="#000"/>
<rect x="1311" y="35" width="3" height="1" fill="#000"/>
<rect x="1312" y="36" width="1" height="1" fill="#000"/>
<path d="M8,38h7v1h-1v1h-1v1h-1v1h-1v-1h-1v-1h-1v-1h-1z" fill="#000"/>
<text x="20.4" y="43" font-size="10.0" fill="#000" stroke="#000" stroke-width="0.25" textLength="58.8" lengthAdjust="spacingAndGlyphs">USDCAD-,H4</text>
<text x="85.2" y="43" font-size="10.0" fill="#000" stroke="#000" stroke-width="0.25" textLength="33" lengthAdjust="spacingAndGlyphs">1.36084</text>
<text x="121.2" y="43" font-size="10.0" fill="#000" stroke="#000" stroke-width="0.25" textLength="33" lengthAdjust="spacingAndGlyphs">1.36180</text>
<text x="157.2" y="43" font-size="10.0" fill="#000" stroke="#000" stroke-width="0.25" textLength="33" lengthAdjust="spacingAndGlyphs">1.36039</text>
<text x="193.2" y="43" font-size="10.0" fill="#000" stroke="#000" stroke-width="0.25" textLength="33" lengthAdjust="spacingAndGlyphs">1.36084</text>
<rect x="1642" y="43" width="2" height="1" fill="#000"/>
<text x="1647" y="47" font-size="10.0" fill="#000" stroke="#000" stroke-width="0.25" textLength="33" lengthAdjust="spacingAndGlyphs">1.37145</text>
<rect x="1642" y="76" width="2" height="1" fill="#000"/>
<text x="1647" y="80" font-size="10.0" fill="#000" stroke="#000" stroke-width="0.25" textLength="33" lengthAdjust="spacingAndGlyphs">1.36945</text>
<rect x="1642" y="109" width="2" height="1" fill="#000"/>
<text x="1647" y="113" font-size="10.0" fill="#000" stroke="#000" stroke-width="0.25" textLength="33" lengthAdjust="spacingAndGlyphs">1.36750</text>
<rect x="1642" y="142" width="2" height="1" fill="#000"/>
<text x="1647" y="146" font-size="10.0" fill="#000" stroke="#000" stroke-width="0.25" textLength="33" lengthAdjust="spacingAndGlyphs">1.36550</text>
<rect x="1642" y="175" width="2" height="1" fill="#000"/>
<text x="1647" y="179" font-size="10.0" fill="#000" stroke="#000" stroke-width="0.25" textLength="33" lengthAdjust="spacingAndGlyphs">1.36350</text>
<rect x="1642" y="208" width="2" height="1" fill="#000"/>
<text x="1647" y="212" font-size="10.0" fill="#000" stroke="#000" stroke-width="0.25" textLength="33" lengthAdjust="spacingAndGlyphs">1.36150</text>
<rect x="1642" y="241" width="2" height="1" fill="#000"/>
<text x="1647" y="245" font-size="10.0" fill="#000" stroke="#000" stroke-width="0.25" textLength="33" lengthAdjust="spacingAndGlyphs">1.35955</text>
<rect x="1642" y="274" width="2" height="1" fill="#000"/>
<text x="1647" y="278" font-size="10.0" fill="#000" stroke="#000" stroke-width="0.25" textLength="33" lengthAdjust="spacingAndGlyphs">1.35755</text>
<rect x="1642" y="307" width="2" height="1" fill="#000"/>
<text x="1647" y="311" font-size="10.0" fill="#000" stroke="#000" stroke-width="0.25" textLength="33" lengthAdjust="spacingAndGlyphs">1.35555</text>
<rect x="1642" y="340" width="2" height="1" fill="#000"/>
<text x="1647" y="344" font-size="10.0" fill="#000" stroke="#000" stroke-width="0.25" textLength="33" lengthAdjust="spacingAndGlyphs">1.35355</text>
<rect x="1642" y="373" width="2" height="1" fill="#000"/>
<text x="1647" y="377" font-size="10.0" fill="#000" stroke="#000" stroke-width="0.25" textLength="33" lengthAdjust="spacingAndGlyphs">1.35155</text>
<rect x="1642" y="406" width="2" height="1" fill="#000"/>
<text x="1647" y="410" font-size="10.0" fill="#000" stroke="#000" stroke-width="0.25" textLength="33" lengthAdjust="spacingAndGlyphs">1.34960</text>
<rect x="1642" y="439" width="2" height="1" fill="#000"/>
<text x="1647" y="443" font-size="10.0" fill="#000" stroke="#000" stroke-width="0.25" textLength="33" lengthAdjust="spacingAndGlyphs">1.34760</text>
<rect x="1642" y="472" width="2" height="1" fill="#000"/>
<text x="1647" y="476" font-size="10.0" fill="#000" stroke="#000" stroke-width="0.25" textLength="33" lengthAdjust="spacingAndGlyphs">1.34560</text>
<rect x="1642" y="505" width="2" height="1" fill="#000"/>
<text x="1647" y="509" font-size="10.0" fill="#000" stroke="#000" stroke-width="0.25" textLength="33" lengthAdjust="spacingAndGlyphs">1.34360</text>
<rect x="1642" y="538" width="2" height="1" fill="#000"/>
<text x="1647" y="542" font-size="10.0" fill="#000" stroke="#000" stroke-width="0.25" textLength="33" lengthAdjust="spacingAndGlyphs">1.34160</text>
<rect x="1642" y="571" width="2" height="1" fill="#000"/>
<text x="1647" y="575" font-size="10.0" fill="#000" stroke="#000" stroke-width="0.25" textLength="33" lengthAdjust="spacingAndGlyphs">1.33965</text>
<rect x="1642" y="604" width="2" height="1" fill="#000"/>
<text x="1647" y="608" font-size="10.0" fill="#000" stroke="#000" stroke-width="0.25" textLength="33" lengthAdjust="spacingAndGlyphs">1.33765</text>
<rect x="1643" y="132" width="41" height="11" fill="#f00"/>
<text x="1647" y="141" font-size="10.0" fill="#fff" stroke="#fff" stroke-width="0.25" textLength="33" lengthAdjust="spacingAndGlyphs">1.36572</text>
<rect x="1643" y="165" width="41" height="11" fill="#f00"/>
<text x="1647" y="174" font-size="10.0" fill="#fff" stroke="#fff" stroke-width="0.25" textLength="33" lengthAdjust="spacingAndGlyphs">1.36374</text>
<rect x="1643" y="197" width="41" height="11" fill="#ffa500"/>
<text x="1647" y="206" font-size="10.0" fill="#fff" stroke="#fff" stroke-width="0.25" textLength="33" lengthAdjust="spacingAndGlyphs">1.36181</text>
<rect x="1643" y="246" width="41" height="11" fill="#00f"/>
<text x="1647" y="255" font-size="10.0" fill="#fff" stroke="#fff" stroke-width="0.25" textLength="33" lengthAdjust="spacingAndGlyphs">1.35886</text>
<rect x="1643" y="276" width="41" height="11" fill="#00f"/>
<text x="1647" y="285" font-size="10.0" fill="#fff" stroke="#fff" stroke-width="0.25" textLength="33" lengthAdjust="spacingAndGlyphs">1.35706</text>
<rect x="1643" y="214" width="41" height="11" fill="#000"/>
<text x="1647" y="223" font-size="10.0" fill="#fff" stroke="#fff" stroke-width="0.25" textLength="33" lengthAdjust="spacingAndGlyphs">1.36084</text>
<rect x="4" y="696" width="3" height="8" fill="#0f0"/>
<rect x="20" y="701" width="3" height="3" fill="#0f0"/>
<rect x="36" y="703" width="3" height="1" fill="#0f0"/>
<rect x="52" y="704" width="3" height="2" fill="#0f0"/>
<rect x="68" y="704" width="3" height="4" fill="#0f0"/>
<rect x="84" y="704" width="3" height="5" fill="#0f0"/>
<rect x="100" y="704" width="3" height="1" fill="#0f0"/>
<rect x="116" y="703" width="3" height="1" fill="#0f0"/>
<rect x="132" y="704" width="3" height="1" fill="#0f0"/>
<rect x="148" y="704" width="3" height="7" fill="#0f0"/>
<rect x="164" y="704" width="3" height="10" fill="#0f0"/>
<rect x="180" y="704" width="3" height="13" fill="#0f0"/>
<rect x="196" y="704" width="3" height="1" fill="#0f0"/>
<rect x="212" y="687" width="3" height="17" fill="#0f0"/>
<rect x="228" y="674" width="3" height="30" fill="#0f0"/>
<rect x="244" y="665" width="3" height="39" fill="#0f0"/>
<rect x="260" y="657" width="3" height="47" fill="#0f0"/>
<rect x="276" y="649" width="3" height="55" fill="#0f0"/>
<rect x="292" y="639" width="3" height="65" fill="#0f0"/>
<rect x="308" y="629" width="3" height="75" fill="#0f0"/>
<rect x="324" y="625" width="3" height="79" fill="#0f0"/>
<rect x="340" y="623" width="3" height="81" fill="#0f0"/>
<rect x="356" y="620" width="3" height="84" fill="#0f0"/>
<rect x="372" y="616" width="3" height="88" fill="#0f0"/>
<rect x="388" y="624" width="3" height="80" fill="#0f0"/>
<rect x="404" y="625" width="3" height="79" fill="#0f0"/>
<rect x="420" y="627" width="3" height="77" fill="#0f0"/>
<rect x="436" y="625" width="3" height="79" fill="#0f0"/>
<rect x="452" y="628" width="3" height="76" fill="#0f0"/>
<rect x="468" y="633" width="3" height="71" fill="#0f0"/>
<rect x="484" y="644" width="3" height="60" fill="#0f0"/>
<rect x="500" y="654" width="3" height="50" fill="#0f0"/>
<rect x="516" y="661" width="3" height="43" fill="#0f0"/>
<rect x="532" y="668" width="3" height="36" fill="#0f0"/>
<rect x="548" y="673" width="3" height="31" fill="#0f0"/>
<rect x="564" y="675" width="3" height="29" fill="#0f0"/>
<rect x="580" y="674" width="3" height="30" fill="#0f0"/>
<rect x="596" y="675" width="3" height="29" fill="#0f0"/>
<rect x="612" y="672" width="3" height="32" fill="#0f0"/>
<rect x="628" y="670" width="3" height="34" fill="#0f0"/>
<rect x="644" y="670" width="3" height="34" fill="#0f0"/>
<rect x="660" y="669" width="3" height="35" fill="#0f0"/>
<rect x="676" y="667" width="3" height="37" fill="#0f0"/>
<rect x="692" y="670" width="3" height="34" fill="#0f0"/>
<rect x="708" y="674" width="3" height="30" fill="#0f0"/>
<rect x="724" y="677" width="3" height="27" fill="#0f0"/>
<rect x="740" y="682" width="3" height="22" fill="#0f0"/>
<rect x="756" y="686" width="3" height="18" fill="#0f0"/>
<rect x="772" y="698" width="3" height="6" fill="#0f0"/>
<rect x="788" y="704" width="3" height="4" fill="#0f0"/>
<rect x="804" y="704" width="3" height="10" fill="#0f0"/>
<rect x="820" y="704" width="3" height="13" fill="#0f0"/>
<rect x="836" y="704" width="3" height="17" fill="#0f0"/>
<rect x="852" y="704" width="3" height="21" fill="#0f0"/>
<rect x="868" y="704" width="3" height="22" fill="#0f0"/>
<rect x="884" y="704" width="3" height="23" fill="#0f0"/>
<rect x="900" y="704" width="3" height="25" fill="#0f0"/>
<rect x="916" y="704" width="3" height="24" fill="#0f0"/>
<rect x="932" y="704" width="3" height="22" fill="#0f0"/>
<rect x="948" y="704" width="3" height="20" fill="#0f0"/>
<rect x="964" y="704" width="3" height="13" fill="#0f0"/>
<rect x="980" y="704" width="3" height="3" fill="#0f0"/>
<rect x="996" y="698" width="3" height="6" fill="#0f0"/>
<rect x="1012" y="695" width="3" height="9" fill="#0f0"/>
<rect x="1028" y="691" width="3" height="13" fill="#0f0"/>
<rect x="1044" y="687" width="3" height="17" fill="#0f0"/>
<rect x="1060" y="679" width="3" height="25" fill="#0f0"/>
<rect x="1076" y="673" width="3" height="31" fill="#0f0"/>
<rect x="1092" y="670" width="3" height="34" fill="#0f0"/>
<rect x="1108" y="670" width="3" height="34" fill="#0f0"/>
<rect x="1124" y="672" width="3" height="32" fill="#0f0"/>
<rect x="1140" y="673" width="3" height="31" fill="#0f0"/>
<rect x="1156" y="671" width="3" height="33" fill="#0f0"/>
<rect x="1172" y="674" width="3" height="30" fill="#0f0"/>
<rect x="1188" y="677" width="3" height="27" fill="#0f0"/>
<rect x="1204" y="677" width="3" height="27" fill="#0f0"/>
<rect x="1220" y="677" width="3" height="27" fill="#0f0"/>
<rect x="1236" y="685" width="3" height="19" fill="#0f0"/>
<rect x="1252" y="692" width="3" height="12" fill="#0f0"/>
<rect x="1268" y="698" width="3" height="6" fill="#0f0"/>
<rect x="1284" y="702" width="3" height="2" fill="#0f0"/>
<polyline points="5.5,661.9 21.5,670.8 37.5,679.2 53.5,686.6 69.5,692.9 85.5,697 101.5,699.8 117.5,701.8 133.5,703.4 149.5,704.9 165.5,705.9 181.5,707.7 197.5,707.4 213.5,705.4 229.5,702.3 245.5,697.8 261.5,692.9 277.5,686.6 293.5,678.4 309.5,669.2 325.5,659.8 341.5,650.4 357.5,642.5 373.5,636.4 389.5,631.3 405.5,628.4 421.5,625 437.5,624.1 453.5,623.8 469.5,624.1 485.5,627.4 501.5,631.2 517.5,636.1 533.5,641.4 549.5,646.2 565.5,651.3 581.5,657.2 597.5,662.3 613.5,666.1 629.5,669.2 645.5,671.4 661.5,672 677.5,672 693.5,671.2 709.5,671.4 725.5,672 741.5,672.5 757.5,674.2 773.5,677.3 789.5,681.1 805.5,686.5 821.5,691.3 837.5,697.2 853.5,703 869.5,708.1 885.5,713.2 901.5,717.5 917.5,721.6 933.5,723.6 949.5,723.9 965.5,723.9 981.5,722.4 997.5,719 1013.5,716 1029.5,711.9 1045.5,707.1 1061.5,702 1077.5,695.9 1093.5,691 1109.5,685.2 1125.5,682.1 1141.5,679.1 1157.5,676.3 1173.5,674 1189.5,673.2 1205.5,673 1221.5,673 1237.5,675 1253.5,677.4 1269.5,680.3 1285.5,683.5" fill="none" stroke="#f00" stroke-width="2" shape-rendering="crispEdges" stroke-linejoin="round"/>
<text x="9.3" y="622" font-size="10.0" fill="#000" stroke="#000" stroke-width="0.25" textLength="66.3" lengthAdjust="spacingAndGlyphs">MACD(12,26,9)</text>
<text x="78.1" y="622" font-size="10.0" fill="#000" stroke="#000" stroke-width="0.25" textLength="38" lengthAdjust="spacingAndGlyphs">0.000148</text>
<text x="119" y="622" font-size="10.0" fill="#000" stroke="#000" stroke-width="0.25" textLength="38" lengthAdjust="spacingAndGlyphs">0.001364</text>
<rect x="1642" y="611" width="1" height="1" fill="#000"/>
<text x="1644.6" y="620" font-size="10.0" fill="#000" stroke="#000" stroke-width="0.25" textLength="33" lengthAdjust="spacingAndGlyphs">0.00615</text>
<rect x="1642" y="704" width="1" height="1" fill="#000"/>
<text x="1644.6" y="708" font-size="10.0" fill="#000" stroke="#000" stroke-width="0.25" textLength="18" lengthAdjust="spacingAndGlyphs">0.00</text>
<rect x="1642" y="733" width="1" height="1" fill="#000"/>
<text x="1644.6" y="731" font-size="10.0" fill="#000" stroke="#000" stroke-width="0.25" textLength="41" lengthAdjust="spacingAndGlyphs">-0.001906</text>
<polyline points="5.5,794 21.5,794 37.5,792.6 53.5,792.4 69.5,793 85.5,792 101.5,784.7 117.5,787.3 133.5,790.3 149.5,799 165.5,794.9 181.5,795.7 197.5,778.4 213.5,772.8 229.5,773.8 245.5,773.8 261.5,773.8 277.5,771.5 293.5,768.4 309.5,766.9 325.5,769.7 341.5,769.7 357.5,769.5 373.5,766.9 389.5,781.9 405.5,777.1 421.5,776.8 437.5,774.8 453.5,779.4 469.5,780.9 485.5,789.8 501.5,790.1 517.5,788.8 533.5,788.8 549.5,788.8 565.5,785.2 581.5,782.7 597.5,783.7 613.5,778.6 629.5,778.6 645.5,781.9 661.5,778.6 677.5,778.6 693.5,785.2 709.5,786.8 725.5,787 741.5,790.1 757.5,790.1 773.5,802.8 789.5,800 805.5,799.8 821.5,796.7 837.5,799.8 853.5,799.8 869.5,797.7 885.5,798.2 901.5,798.7 917.5,796.2 933.5,791.9 949.5,790.3 965.5,782.2 981.5,775.1 997.5,775.1 1013.5,783 1029.5,780.2 1045.5,778.4 1061.5,771.8 1077.5,771.8 1093.5,773 1109.5,781.7 1125.5,781.7 1141.5,781.7 1157.5,776.8 1173.5,783 1189.5,788 1205.5,782 1221.5,781.8 1237.5,796 1253.5,796 1269.5,796 1285.5,796" fill="none" stroke="#1e90ff" stroke-width="2" shape-rendering="crispEdges" stroke-linejoin="round"/>
<line x1="6" y1="758.5" x2="1641" y2="758.5" stroke="#000" stroke-width="1" stroke-dasharray="3,3"/>
<line x1="6" y1="789.5" x2="1641" y2="789.5" stroke="#000" stroke-width="1" stroke-dasharray="3,3"/>
<line x1="6" y1="826.5" x2="1641" y2="826.5" stroke="#000" stroke-width="1" stroke-dasharray="3,3"/>
<text x="9.3" y="749" font-size="10.0" fill="#000" stroke="#000" stroke-width="0.25" textLength="32" lengthAdjust="spacingAndGlyphs">RSI(14)</text>
<text x="44" y="749" font-size="10.0" fill="#000" stroke="#000" stroke-width="0.25" textLength="33" lengthAdjust="spacingAndGlyphs">44.1790</text>
<rect x="1642" y="738" width="1" height="1" fill="#000"/>
<rect x="1642" y="841" width="1" height="1" fill="#000"/>
<text x="1644.6" y="747" font-size="10.0" fill="#000" stroke="#000" stroke-width="0.25" textLength="15" lengthAdjust="spacingAndGlyphs">100</text>
<text x="1644.6" y="762" font-size="10.0" fill="#000" stroke="#000" stroke-width="0.25" textLength="10" lengthAdjust="spacingAndGlyphs">80</text>
<text x="1644.6" y="793" font-size="10.0" fill="#000" stroke="#000" stroke-width="0.25" textLength="10" lengthAdjust="spacingAndGlyphs">50</text>
<text x="1644.6" y="830" font-size="10.0" fill="#000" stroke="#000" stroke-width="0.25" textLength="10" lengthAdjust="spacingAndGlyphs">15</text>
<text x="1644.6" y="839" font-size="10.0" fill="#000" stroke="#000" stroke-width="0.25" textLength="5" lengthAdjust="spacingAndGlyphs">0</text>
<rect x="5" y="843" width="1" height="3" fill="#000"/>
<text x="4.2" y="855" font-size="10.0" fill="#000" stroke="#000" stroke-width="0.25" textLength="47" lengthAdjust="spacingAndGlyphs">1 Dec 2022</text>
<rect x="69" y="843" width="1" height="3" fill="#000"/>
<text x="68.2" y="855" font-size="10.0" fill="#000" stroke="#000" stroke-width="0.25" textLength="50" lengthAdjust="spacingAndGlyphs">2 Dec 04:00</text>
<rect x="133" y="843" width="1" height="3" fill="#000"/>
<text x="132.2" y="855" font-size="10.0" fill="#000" stroke="#000" stroke-width="0.25" textLength="50" lengthAdjust="spacingAndGlyphs">4 Dec 23:00</text>
<rect x="197" y="843" width="1" height="3" fill="#000"/>
<text x="196.2" y="855" font-size="10.0" fill="#000" stroke="#000" stroke-width="0.25" textLength="50" lengthAdjust="spacingAndGlyphs">5 Dec 12:00</text>
<rect x="261" y="843" width="1" height="3" fill="#000"/>
<text x="260.2" y="855" font-size="10.0" fill="#000" stroke="#000" stroke-width="0.25" textLength="50" lengthAdjust="spacingAndGlyphs">6 Dec 04:00</text>
<rect x="325" y="843" width="1" height="3" fill="#000"/>
<text x="324.2" y="855" font-size="10.0" fill="#000" stroke="#000" stroke-width="0.25" textLength="50" lengthAdjust="spacingAndGlyphs">6 Dec 20:00</text>
<rect x="389" y="843" width="1" height="3" fill="#000"/>
<text x="388.2" y="855" font-size="10.0" fill="#000" stroke="#000" stroke-width="0.25" textLength="50" lengthAdjust="spacingAndGlyphs">7 Dec 12:00</text>
<rect x="453" y="843" width="1" height="3" fill="#000"/>
<text x="452.2" y="855" font-size="10.0" fill="#000" stroke="#000" stroke-width="0.25" textLength="50" lengthAdjust="spacingAndGlyphs">8 Dec 04:00</text>
<rect x="517" y="843" width="1" height="3" fill="#000"/>
<text x="516.2" y="855" font-size="10.0" fill="#000" stroke="#000" stroke-width="0.25" textLength="50" lengthAdjust="spacingAndGlyphs">8 Dec 20:00</text>
<rect x="581" y="843" width="1" height="3" fill="#000"/>
<text x="580.2" y="855" font-size="10.0" fill="#000" stroke="#000" stroke-width="0.25" textLength="50" lengthAdjust="spacingAndGlyphs">9 Dec 12:00</text>
<rect x="645" y="843" width="1" height="3" fill="#000"/>
<text x="644.2" y="855" font-size="10.0" fill="#000" stroke="#000" stroke-width="0.25" textLength="55" lengthAdjust="spacingAndGlyphs">12 Dec 04:00</text>
<rect x="709" y="843" width="1" height="3" fill="#000"/>
<text x="708.2" y="855" font-size="10.0" fill="#000" stroke="#000" stroke-width="0.25" textLength="55" lengthAdjust="spacingAndGlyphs">12 Dec 20:00</text>
<rect x="773" y="843" width="1" height="3" fill="#000"/>
<text x="772.2" y="855" font-size="10.0" fill="#000" stroke="#000" stroke-width="0.25" textLength="55" lengthAdjust="spacingAndGlyphs">13 Dec 12:00</text>
<rect x="837" y="843" width="1" height="3" fill="#000"/>
<text x="836.2" y="855" font-size="10.0" fill="#000" stroke="#000" stroke-width="0.25" textLength="55" lengthAdjust="spacingAndGlyphs">14 Dec 04:00</text>
<rect x="901" y="843" width="1" height="3" fill="#000"/>
<text x="900.2" y="855" font-size="10.0" fill="#000" stroke="#000" stroke-width="0.25" textLength="55" lengthAdjust="spacingAndGlyphs">14 Dec 20:00</text>
<rect x="965" y="843" width="1" height="3" fill="#000"/>
<text x="964.2" y="855" font-size="10.0" fill="#000" stroke="#000" stroke-width="0.25" textLength="55" lengthAdjust="spacingAndGlyphs">15 Dec 12:00</text>
<rect x="1029" y="843" width="1" height="3" fill="#000"/>
<text x="1028.2" y="855" font-size="10.0" fill="#000" stroke="#000" stroke-width="0.25" textLength="55" lengthAdjust="spacingAndGlyphs">16 Dec 04:00</text>
<rect x="1093" y="843" width="1" height="3" fill="#000"/>
<text x="1092.2" y="855" font-size="10.0" fill="#000" stroke="#000" stroke-width="0.25" textLength="55" lengthAdjust="spacingAndGlyphs">18 Dec 23:00</text>
<rect x="1157" y="843" width="1" height="3" fill="#000"/>
<text x="1156.2" y="855" font-size="10.0" fill="#000" stroke="#000" stroke-width="0.25" textLength="55" lengthAdjust="spacingAndGlyphs">19 Dec 12:00</text>
<rect x="1221" y="843" width="1" height="3" fill="#000"/>
<text x="1220.2" y="855" font-size="10.0" fill="#000" stroke="#000" stroke-width="0.25" textLength="55" lengthAdjust="spacingAndGlyphs">20 Dec 04:00</text>
<rect x="1285" y="843" width="1" height="3" fill="#000"/>
<text x="1284.2" y="855" font-size="10.0" fill="#000" stroke="#000" stroke-width="0.25" textLength="55" lengthAdjust="spacingAndGlyphs">20 Dec 20:00</text>
</svg>
</body></html>
